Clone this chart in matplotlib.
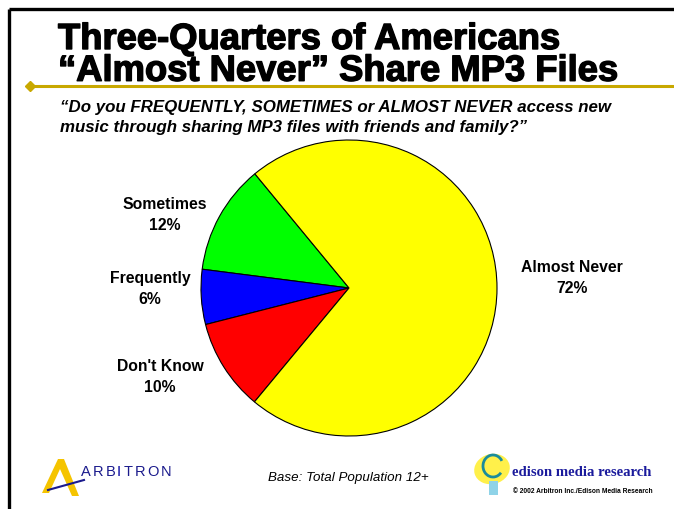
import numpy as np
import matplotlib.pyplot as plt
import matplotlib.patheffects as pe
from matplotlib.patches import Polygon, Ellipse, Arc, Rectangle

# data
labels = ["Sometimes", "Frequently", "Don't Know", "Almost Never"]
shares = [12, 6, 10, 72]
colors = ["#00FF00", "#0000FF", "#FF0000", "#FFFF00"]
# label anchor points in pixels (x, y from top)
label_pos = [(165, 215), (150, 289), (160, 377), (572, 278)]

W, H = 674, 510
fig = plt.figure(figsize=(W / 100, H / 100), dpi=100)

# overlay axes in pixel coords for slide decorations
bg = fig.add_axes([0, 0, 1, 1])
bg.set_xlim(0, W)
bg.set_ylim(H, 0)
bg.axis("off")

# slide border (top + left)
bg.plot([9, W + 5], [10, 10], color="black", lw=2.4, solid_capstyle="butt")
bg.plot([9, 9], [10, H + 5], color="black", lw=2.4, solid_capstyle="butt")

# title
heavy = [pe.withStroke(linewidth=1.0, foreground="black")]
bg.text(58, 23, "Three-Quarters of Americans\n\u201cAlmost Never\u201d Share MP3 Files",
        fontsize=26.2, fontweight="bold", family="Liberation Sans", va="top",
        ha="left", linespacing=0.88, path_effects=heavy)

# gold rule with diamond
bg.plot([30, W], [87, 87], color="#C8A800", lw=2.2)
bg.plot([30], [87], marker="D", color="#C8A800", markersize=5)

# question
bg.text(60, 112, "\u201cDo you FREQUENTLY, SOMETIMES or ALMOST NEVER access new",
        fontsize=12.2, fontweight="bold", style="italic", family="Liberation Sans",
        va="baseline")
bg.text(60, 132, "music through sharing MP3 files with friends and family?\u201d",
        fontsize=12.2, fontweight="bold", style="italic", family="Liberation Sans",
        va="baseline")

# pie
cx, cy, r = 349, 289, 148
pax = fig.add_axes([(cx - r) / W, (H - cy - r) / H, 2 * r / W, 2 * r / H])
pax.pie(shares, colors=colors, startangle=129.5, counterclock=True,
        wedgeprops=dict(edgecolor="black", linewidth=0.8))
pax.set_xlim(-1, 1)
pax.set_ylim(-1, 1)
pax.set_aspect("equal")
pax.axis("off")
for lab, val, (x, y) in zip(labels, shares, label_pos):
    bg.text(x, y, f"{lab}\n{val}%", ha="center", va="center", fontsize=11.3,
            fontweight="bold", family="Liberation Sans", linespacing=1.5)

# footer
bg.text(348, 481, "Base: Total Population 12+", ha="center", va="baseline",
        fontsize=9.6, style="italic", family="Liberation Sans")

# Arbitron logo
bg.add_patch(Polygon([[42, 494], [58, 460], [64, 460], [79, 497], [72, 497],
                      [60, 470], [49, 494]], closed=True, color="#F5C400", lw=0))
bg.plot([48, 84], [491, 481], color="#1A1A8C", lw=1.5)
renderer = fig.canvas.get_renderer()
x0 = 81
for ch in "ARBITRON":
    t = bg.text(x0, 476, ch, fontsize=10.5, color="#0000A0" if ch == "I" else "#1A1A8C",
                family="Liberation Sans", va="baseline", ha="left")
    x0 += t.get_window_extent(renderer).width + 2.0

# Edison logo
bg.add_patch(Ellipse((492, 470), 36, 30, angle=-15, color="#FFF04A", lw=0))
bg.add_patch(Arc((493, 467), 20, 22, theta1=40, theta2=330, color="#1A8C9C", lw=2))
bg.add_patch(Rectangle((489, 482), 9, 14, color="#8FD3E8", lw=0))
bg.text(512, 476, "edison media research", fontsize=10.6, fontweight="bold",
        color="#1A1A9C", family="Liberation Serif", va="baseline")
bg.text(513, 493, "\u00a9 2002 Arbitron Inc./Edison Media Research", fontsize=4.8,
        fontweight="bold", family="Liberation Sans", va="baseline")

fig.savefig("out.png", dpi=100)
